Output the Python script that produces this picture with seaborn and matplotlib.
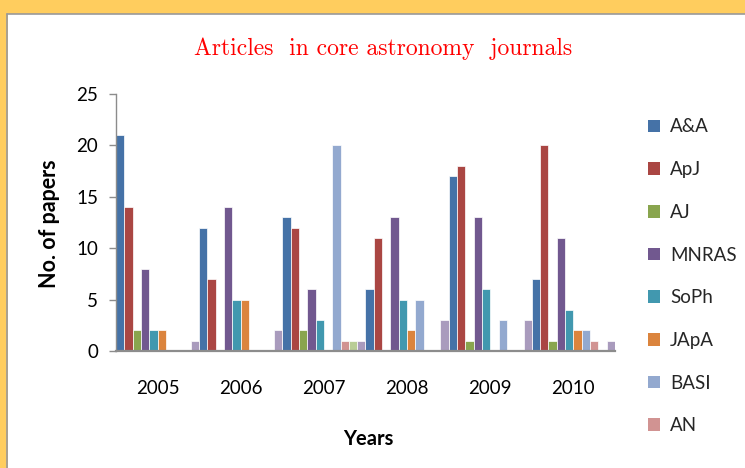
import numpy as np
import pandas as pd
import seaborn as sns
import matplotlib.pyplot as plt
from matplotlib.patches import Rectangle, Patch
from matplotlib.lines import Line2D

# data
years = ['2005', '2006', '2007', '2008', '2009', '2010']
journals = ['A&A', 'ApJ', 'AJ', 'MNRAS', 'SoPh', 'JApA', 'BASI', 'AN']
extra = ['Series 9', 'Series 10']   # drawn but not in the legend

aa = [21, 12, 13, 6, 17, 7]
apj = [14, 7, 12, 11, 18, 20]
aj = [2, 0, 2, 0, 1, 1]
mnras = [8, 14, 6, 13, 13, 11]
soph = [2, 5, 3, 5, 6, 4]
japa = [2, 5, 0, 2, 0, 2]
basi = [0, 0, 20, 5, 3, 2]
an = [0, 0, 1, 0, 0, 1]
s9 = [0, 0, 1, 0, 0, 0]
s10 = [1, 2, 1, 3, 3, 1]

colors = ['#4572A7', '#AA4643', '#89A54E', '#71588F', '#4198AF',
          '#DB843D', '#93A9CF', '#D19392', '#B9CD96', '#A99BBD']

names = journals + extra
vals = [aa, apj, aj, mnras, soph, japa, basi, an, s9, s10]
rows = []
for n, v in zip(names, vals):
    for y, p in zip(years, v):
        rows.append({'Year': y, 'Journal': n, 'Papers': p})
df = pd.DataFrame(rows)

sns.set_theme(style='white')
plt.rcParams['font.family'] = ['Lato', 'DejaVu Sans']

W, H = 745, 468
fig = plt.figure(figsize=(W / 100, H / 100), dpi=100)
fig.patch.set_facecolor('#FFCD5E')
fig.patches.append(Rectangle((8 / W, 0), 1, (H - 14) / H, transform=fig.transFigure,
                             facecolor='white', edgecolor='none', zorder=-2))
fig.lines.append(Line2D([7.5 / W, 7.5 / W], [0, (H - 13.5) / H], transform=fig.transFigure,
                        color='#999999', lw=1.2))
fig.lines.append(Line2D([7.5 / W, 1], [(H - 13.5) / H, (H - 13.5) / H], transform=fig.transFigure,
                        color='#999999', lw=1.2))

ax = fig.add_axes([116 / W, 1 - 351 / H, 499 / W, 257 / H])
ax.set_facecolor('none')
sns.barplot(data=df, x='Year', y='Papers', hue='Journal', hue_order=names,
            palette=colors, saturation=1, width=1.0, gap=0, errorbar=None,
            edgecolor='white', linewidth=0.5, legend=False, ax=ax)

ax.set_ylim(0, 25)
ax.set_yticks([0, 5, 10, 15, 20, 25])
ax.set_xlim(-0.5, 5.5)
for s in ['top', 'right']:
    ax.spines[s].set_visible(False)
ax.spines['left'].set_color('#8C8C8C')
ax.spines['left'].set_linewidth(1.0)
ax.spines['bottom'].set_color('#8C8C8C')
ax.spines['bottom'].set_linewidth(1.6)
ax.tick_params(axis='y', direction='out', length=5, width=1, color='#8C8C8C',
               pad=8, labelsize=13.5, labelcolor='black', left=True)
ax.tick_params(axis='x', length=0, pad=21, labelsize=13.5, labelcolor='black')

ax.set_xlabel('Years', fontsize=14.5, fontweight='bold', color='black')
ax.set_ylabel('No. of papers', fontsize=15.5, fontweight='bold', color='black')
ax.xaxis.set_label_coords(0.505, -0.305)
ax.yaxis.set_label_coords(-0.113, 0.494)

fig.text(383 / W, 1 - 49 / H, 'Articles  in core astronomy  journals',
         family='cmr10', color='red', fontsize=17, ha='center', va='center')

handles = [Patch(facecolor=c, edgecolor='none') for c in colors[:8]]
fig.legend(handles, journals, loc='upper left', bbox_to_anchor=(640 / W, 1 - 111 / H),
           frameon=False, fontsize=13.5, handlelength=0.65, handleheight=0.65,
           handletextpad=0.55, labelspacing=1.37, borderaxespad=0)

fig.savefig('out.png', dpi=100)
